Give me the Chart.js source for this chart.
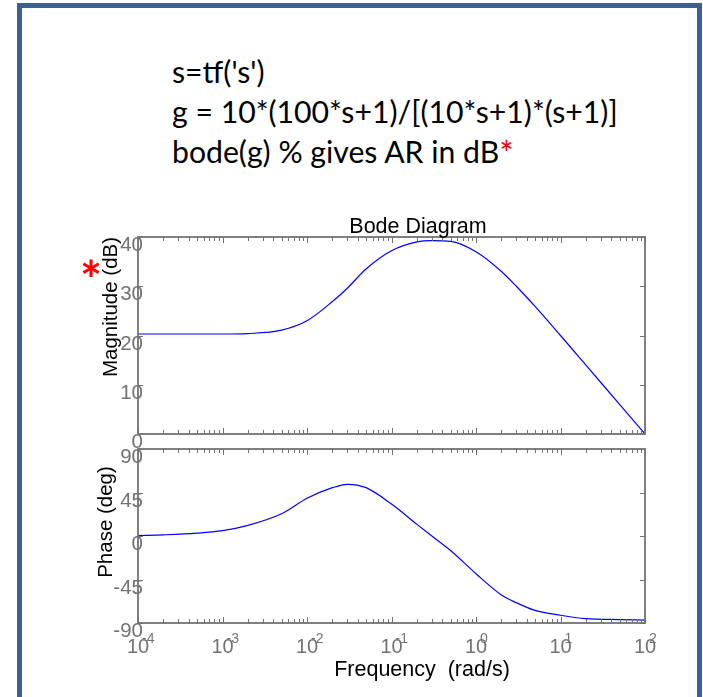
<!DOCTYPE html>
<html><head><meta charset="utf-8">
<script src="https://cdn.jsdelivr.net/npm/chart.js@4.4.0/dist/chart.umd.min.js"></script>
<style>
html,body{margin:0;padding:0;background:#fff;width:703px;height:697px;overflow:hidden;}
#frame{position:absolute;left:17px;top:3px;width:675px;height:760px;border:5px solid #3C6090;border-bottom:none;box-sizing:content-box;}
.code{position:absolute;left:172px;font-family:Lato,'Open Sans',sans-serif;font-size:30.2px;color:#000;line-height:1;white-space:nowrap;}
.red{color:#ff0000;font-size:1.12em;line-height:0;position:relative;top:3px;}
#star{position:absolute;left:80px;top:253px;font-family:Lato,sans-serif;font-size:52px;font-weight:bold;color:#ff0000;line-height:1;}
canvas{position:absolute;left:0;top:0;}
</style></head>
<body>
<div id="frame"></div>
<div class="code" id="l1" style="top:56px">s=tf('s')</div>
<div class="code" id="l2" style="top:96px">g = 10*(100*s+1)/[(10*s+1)*(s+1)]</div>
<div class="code" id="l3" style="top:136px">bode(g) % gives AR in dB<span class="red">*</span></div>
<canvas id="mag" width="703" height="697"></canvas>
<canvas id="pha" width="703" height="697"></canvas>
<div id="star">*</div>
<script>
// ---- data ----
const freqs       = [1e-4, 2e-4, 5e-4, 1e-3, 2e-3, 5e-3, 1e-2, 2e-2, 3e-2, 5e-2, 0.1, 0.2, 0.3, 0.5, 1, 2, 3, 5, 10, 20, 50, 100];
const magnitudeDb = [20.3, 20.3, 20.3, 20.3, 20.4, 21.1, 23.0, 26.9, 29.6, 33.5, 37.2, 39.0, 39.25, 39.1, 37.0, 33.0, 30.0, 25.9, 20.0, 14.0, 6.0, 0];
const phaseDeg    = [0.5, 1.2, 2.9, 5.5, 11, 23, 39, 50, 53.5, 50, 33, 12, 0, -15, -39, -61, -69, -77, -82, -85.5, -86.5, -87];
const magTicks    = [0, 10, 20, 30, 40];
const phaseTicks  = [-90, -45, 0, 45, 90];
const decadeExps  = [-4, -3, -2, -1, 0, 1, 2];
const titleText   = 'Bode Diagram';
const xLabelText  = 'Frequency  (rad/s)';
const magLabel    = 'Magnitude (dB)';
const phaseLabel  = 'Phase (deg)';

const GRAY = '#737373';
const FONT = '"Liberation Sans", Arial, sans-serif';
const axisPlugin = {
  id: 'matlabAxes',
  afterDraw(chart, args, opts) {
    const ctx = chart.ctx, a = chart.chartArea, xs = chart.scales.x, ys = chart.scales.y;
    ctx.save();
    ctx.strokeStyle = GRAY; ctx.lineWidth = 1.8;
    ctx.strokeRect(a.left, a.top, a.right - a.left, a.bottom - a.top);
    ctx.lineWidth = 1;
    ctx.beginPath();
    for (let d = -4; d <= 2; d++) {
      for (let k = 1; k <= 9; k++) {
        const v = k * Math.pow(10, d);
        if (v > 100.0001) break;
        const x = Math.round(xs.getPixelForValue(v)) + 0.5;
        const len = k === 1 ? 6 : 4;
        ctx.moveTo(x, a.top); ctx.lineTo(x, a.top + len);
        ctx.moveTo(x, a.bottom); ctx.lineTo(x, a.bottom - len);
      }
    }
    opts.yTicks.forEach(v => {
      const y = Math.round(ys.getPixelForValue(v)) + 0.5;
      ctx.moveTo(a.left, y); ctx.lineTo(a.left + 5, y);
      ctx.moveTo(a.right, y); ctx.lineTo(a.right - 5, y);
    });
    ctx.stroke();
    // y tick labels
    ctx.fillStyle = GRAY;
    ctx.font = '20.5px ' + FONT;
    ctx.textAlign = 'right'; ctx.textBaseline = 'alphabetic';
    opts.yTicks.forEach(v => {
      const y = ys.getPixelForValue(v);
      ctx.fillText(String(v), a.left + 5, y + 14);
    });
    // y axis label
    ctx.fillStyle = '#000';
    ctx.font = '20.5px ' + FONT;
    ctx.save();
    ctx.translate(opts.yLabelX, opts.yLabelY);
    ctx.rotate(-Math.PI / 2);
    ctx.textAlign = 'center';
    ctx.fillText(opts.yLabel, 0, 0);
    ctx.restore();
    if (opts.title) {
      ctx.font = '21.5px ' + FONT;
      ctx.textAlign = 'center';
      ctx.fillText(opts.title, 418, 233);
    }
    if (opts.xLabels) {
      decadeExps.forEach(e => {
        const x = xs.getPixelForValue(Math.pow(10, e));
        ctx.fillStyle = GRAY;
        ctx.font = '20px ' + FONT;
        ctx.textAlign = 'center';
        ctx.fillText('10', x, 653);
        ctx.font = '14px ' + FONT;
        ctx.textAlign = 'left';
        ctx.fillText(String(e), x + 4, 643);
      });
      ctx.fillStyle = '#000';
      ctx.font = '21.5px ' + FONT;
      ctx.textAlign = 'center';
      ctx.fillText(xLabelText, 422, 676);
    }
    ctx.restore();
  }
};

function makeChart(id, values, yMin, yMax, pad, opts) {
  return new Chart(document.getElementById(id), {
    type: 'line',
    data: { datasets: [{
      data: freqs.map((f, i) => ({ x: f, y: values[i] })),
      borderColor: '#0000ff', borderWidth: 1.2, pointRadius: 0,
      cubicInterpolationMode: 'monotone', fill: false
    }]},
    options: {
      responsive: false, animation: false, events: [],
      layout: { padding: pad },
      plugins: { legend: { display: false }, tooltip: { enabled: false }, matlabAxes: opts },
      scales: {
        x: { type: 'logarithmic', min: 1e-4, max: 100, display: false },
        y: { type: 'linear', min: yMin, max: yMax, display: false }
      }
    },
    plugins: [axisPlugin]
  });
}

makeChart('mag', magnitudeDb, 0, 40, { left: 138, right: 58, top: 237, bottom: 263 },
  { yTicks: magTicks, yLabel: magLabel, yLabelX: 117, yLabelY: 307, title: titleText, xLabels: false });
makeChart('pha', phaseDeg, -90, 90, { left: 138, right: 58, top: 449, bottom: 74 },
  { yTicks: phaseTicks, yLabel: phaseLabel, yLabelX: 112, yLabelY: 522, title: null, xLabels: true });
</script>
</body></html>
